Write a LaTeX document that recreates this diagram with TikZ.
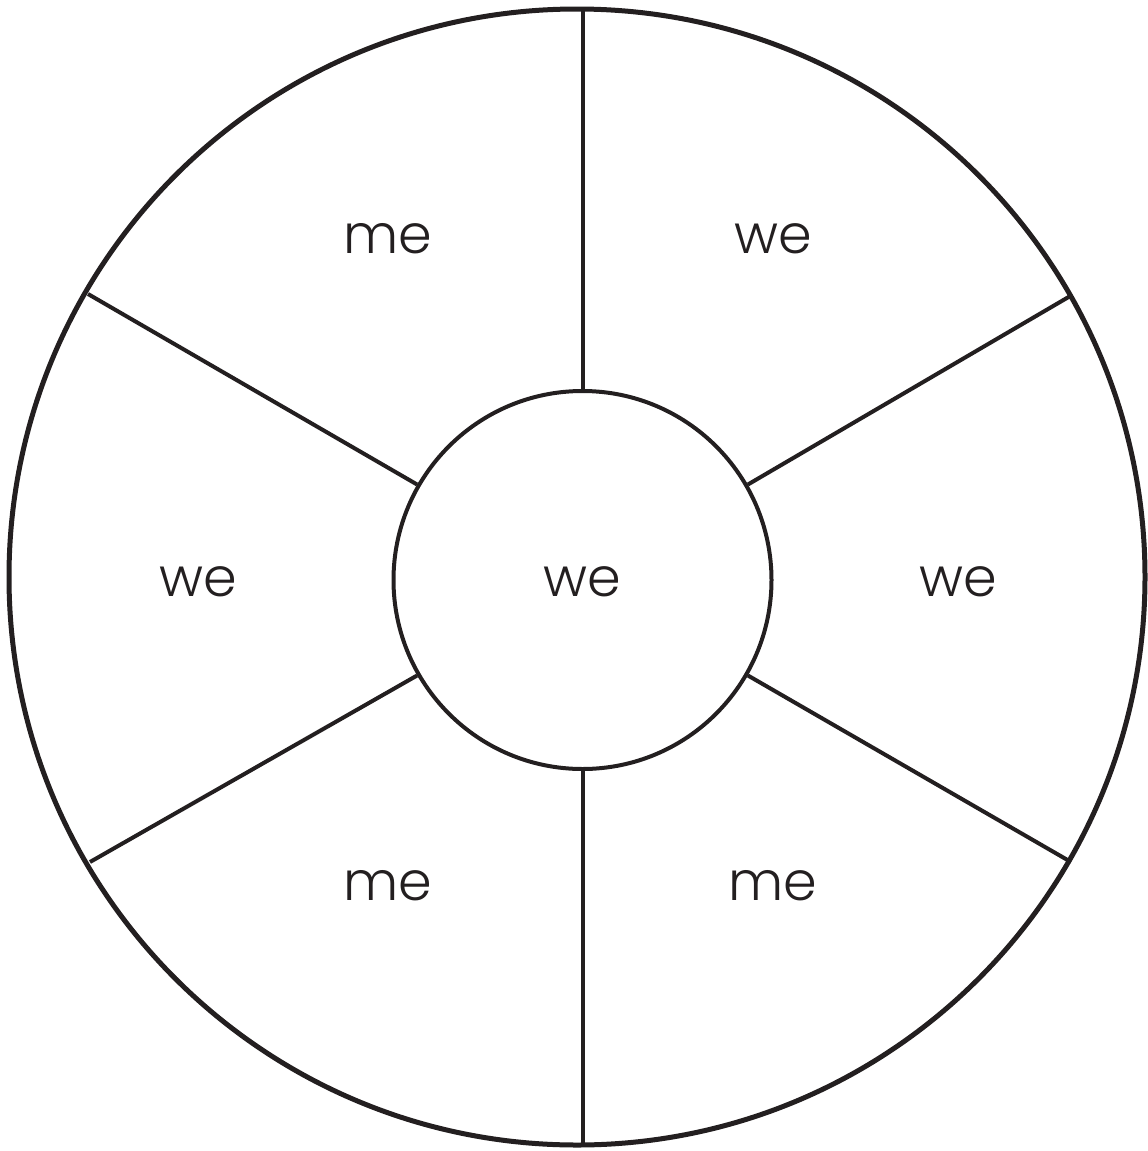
\documentclass[tikz,border=0pt]{standalone}
\usepackage{fontspec}
\setmainfont{Poppins}[UprightFont={* Light}]
\definecolor{ink}{HTML}{231F20}
\begin{document}
\begin{tikzpicture}[x=1pt,y=-1pt,
  ring/.style={draw=ink,circle,inner sep=0pt,line width=5pt,minimum size=1136pt},
  hub/.style={draw=ink,circle,inner sep=0pt,line width=4pt,minimum size=378pt,font=\fontsize{54}{54}\selectfont,text=ink},
  spoke/.style={draw=ink,line width=4pt},
  lbl/.style={font=\fontsize{54}{54}\selectfont,text=ink,inner sep=0pt}]
\useasboundingbox (0,0) rectangle (1148,1151);
\node[ring] (outer) at (577,577) {};
\node[hub] (inner) at (582.5,580) {};
\node[lbl] (c) at (582.5,582) {we};
\coordinate (t) at (582.5,9);
\coordinate (b) at (582.5,1144);
\coordinate (ul) at (88,294);
\coordinate (ur) at (1072,295);
\coordinate (ll) at (90,862);
\coordinate (lr) at (1071,862);
\draw[spoke] (inner.90) -- (t);
\draw[spoke] (inner.270) -- (b);
\draw[spoke] (inner.150) -- (ul);
\draw[spoke] (inner.30) -- (ur);
\draw[spoke] (inner.210) -- (ll);
\draw[spoke] (inner.330) -- (lr);
\node[lbl] (l1) at (388,239) {me};
\node[lbl] (l2) at (773,239) {we};
\node[lbl] (l3) at (198,582) {we};
\node[lbl] (l4) at (958,582) {we};
\node[lbl] (l5) at (388,886) {me};
\node[lbl] (l6) at (773,886) {me};
\end{tikzpicture}
\end{document}
